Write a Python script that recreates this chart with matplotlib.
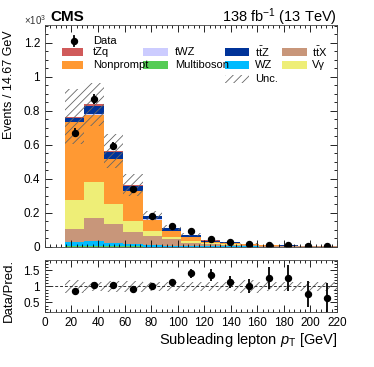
import numpy as np
import matplotlib
matplotlib.use("Agg")
import matplotlib.pyplot as plt
from matplotlib.patches import Rectangle
from matplotlib.ticker import MultipleLocator, AutoMinorLocator, FormatStrFormatter

plt.rcParams['font.family'] = ['Liberation Sans', 'DejaVu Sans']
plt.rcParams['mathtext.fontset'] = 'custom'
plt.rcParams['mathtext.rm'] = 'Liberation Sans'
plt.rcParams['mathtext.it'] = 'Liberation Sans:italic'
plt.rcParams['hatch.linewidth'] = 0.6

# 14 bins of 14.67 GeV from 15 to 220 GeV
bin_edges = np.linspace(15, 220, 15)

# stacked predictions (x10^3 events), bottom to top
multiboson = [0.005, 0.006, 0.004, 0.003, 0.002, 0.002, 0.001, 0.001, 0.001, 0.001, 0.0005, 0.0005, 0.0004, 0.0003]
wz = [0.025, 0.030, 0.020, 0.015, 0.010, 0.006, 0.005, 0.004, 0.003, 0.002, 0.0015, 0.001, 0.001, 0.0008]
ttx = [0.078, 0.136, 0.109, 0.070, 0.051, 0.037, 0.020, 0.013, 0.009, 0.007, 0.004, 0.003, 0.0025, 0.002]
vgamma = [0.170, 0.210, 0.118, 0.065, 0.029, 0.014, 0.009, 0.006, 0.004, 0.003, 0.002, 0.0015, 0.001, 0.001]
nonprompt = [0.454, 0.393, 0.263, 0.175, 0.069, 0.035, 0.024, 0.006, 0.004, 0.0025, 0.001, 0.001, 0.0008, 0.0005]
twz = [0.003, 0.004, 0.003, 0.002, 0.001, 0.001, 0.001, 0.0005, 0.0005, 0.0003, 0.0002, 0.0001, 0.0001, 0.0001]
ttz = [0.024, 0.050, 0.042, 0.031, 0.020, 0.017, 0.012, 0.007, 0.005, 0.004, 0.0025, 0.002, 0.0015, 0.001]
tzq = [0.006, 0.009, 0.004, 0.003, 0.002, 0.002, 0.001, 0.001, 0.0005, 0.0003, 0.0002, 0.0001, 0.0001, 0.0001]

# relative total uncertainty per bin
unc_frac = [0.21, 0.15, 0.18, 0.17, 0.15, 0.15, 0.14, 0.13, 0.13, 0.20, 0.13, 0.13, 0.13, 0.13]

data = [0.670, 0.869, 0.592, 0.338, 0.182, 0.124, 0.094, 0.049, 0.030, 0.020, 0.014, 0.010, 0.0046, 0.003]
data_err = [0.026, 0.029, 0.024, 0.018, 0.014, 0.011, 0.010, 0.007, 0.006, 0.005, 0.004, 0.003, 0.002, 0.002]

ratio = [0.87, 1.04, 1.05, 0.93, 1.02, 1.13, 1.41, 1.36, 1.14, 1.01, 1.27, 1.27, 0.77, 0.64]
ratio_err = [0.03, 0.03, 0.04, 0.05, 0.06, 0.08, 0.14, 0.18, 0.20, 0.21, 0.35, 0.40, 0.40, 0.45]

TTZ = r"$\mathrm{t\bar{t}Z}$"
TTX = r"$\mathrm{t\bar{t}X}$"
VG = "V\u03b3"

components = [
    ("Multiboson", multiboson, "#55cc55"),
    ("WZ", wz, "#00bbff"),
    (TTX, ttx, "#c8967a"),
    (VG, vgamma, "#eeee77"),
    ("Nonprompt", nonprompt, "#ff9933"),
    ("tWZ", twz, "#ccccff"),
    (TTZ, ttz, "#003399"),
    ("tZq", tzq, "#d05a5a"),
]
colors = {label: color for label, _, color in components}

centers = 0.5 * (bin_edges[1:] + bin_edges[:-1])
width = np.diff(bin_edges)

fig = plt.figure(figsize=(3.74, 3.67), dpi=100)
ax = fig.add_axes([0.12, 0.327, 0.781, 0.605])
rax = fig.add_axes([0.12, 0.150, 0.781, 0.142])

bottom = np.zeros(len(centers))
for label, vals, color in components:
    vals = np.array(vals)
    ax.bar(bin_edges[:-1], vals, width=width, bottom=bottom, align='edge',
           color=color, linewidth=0)
    bottom = bottom + vals
total = bottom

unc = total * np.array(unc_frac)
ax.bar(bin_edges[:-1], 2 * unc, width=width, bottom=total - unc, align='edge',
       fill=False, hatch='////', edgecolor='#666666', linewidth=0)

ax.errorbar(centers, data, yerr=data_err, fmt='o', color='black',
            markersize=4.3, elinewidth=1.3, capsize=0)

ax.set_xlim(0, 220)
ax.set_ylim(0, 1.304)
ax.set_ylabel("Events / 14.67 GeV", fontsize=9, loc='top')
ax.yaxis.set_label_coords(-0.103, 0.977)
ax.yaxis.set_major_locator(MultipleLocator(0.2))
ax.yaxis.set_minor_locator(AutoMinorLocator(4))
ax.yaxis.set_major_formatter(FormatStrFormatter('%g'))
ax.xaxis.set_major_locator(MultipleLocator(20))
ax.xaxis.set_minor_locator(AutoMinorLocator(5))
ax.tick_params(labelbottom=False)

for a in (ax, rax):
    a.tick_params(which='both', direction='in', top=True, right=True, labelsize=8.5)
    a.tick_params(which='major', length=5, width=0.6)
    a.tick_params(which='minor', length=2.5, width=0.6)
    for s in a.spines.values():
        s.set_linewidth(0.6)
        s.set_color('#444444')

# ratio panel
rax.bar(bin_edges[:-1], 2 * np.array(unc_frac), width=width,
        bottom=1 - np.array(unc_frac), align='edge', fill=False,
        hatch='////', edgecolor='#666666', linewidth=0)
rax.axhline(1, color='#333333', linestyle='--', linewidth=0.7, dashes=(3, 2))
rax.errorbar(centers, ratio, yerr=ratio_err, fmt='o', color='black',
             markersize=4.3, elinewidth=1.3, capsize=0)
rax.set_xlim(0, 220)
rax.set_ylim(0.2, 1.83)
rax.yaxis.set_major_locator(MultipleLocator(0.5))
rax.yaxis.set_minor_locator(AutoMinorLocator(5))
rax.yaxis.set_major_formatter(FormatStrFormatter('%g'))
rax.xaxis.set_major_locator(MultipleLocator(20))
rax.xaxis.set_minor_locator(AutoMinorLocator(5))
rax.set_ylabel("Data/Pred.", fontsize=9.5)
rax.yaxis.set_label_coords(-0.103, 0.42)
rax.set_xlabel(r"Subleading lepton $p_{\mathrm{T}}$ [GeV]", fontsize=10.5, loc='right',
               labelpad=1.5)


# hand-placed legend (ROOT-style grid), positions in axes pixels
def px(x, y):
    return ((x - 45) / 292.0, (247 - y) / 222.0)


leg_rows = [52.3, 65.0, 79.0]
leg_cols = [(62, 83, 93), (143, 168, 175), (225, 249, 255), (282, 307, 312)]
leg_grid = [
    ["tZq", "tWZ", TTZ, TTX],
    ["Nonprompt", "Multiboson", "WZ", VG],
]
for r, row in enumerate(leg_grid):
    for c, label in enumerate(row):
        x0, x1, xt = leg_cols[c]
        yc = leg_rows[r]
        (ax0, ay0) = px(x0, yc + 4.2)
        (ax1, ay1) = px(x1, yc - 4.2)
        ax.add_patch(Rectangle((ax0, ay0), ax1 - ax0, ay1 - ay0, transform=ax.transAxes,
                               facecolor=colors[label], edgecolor='none'))
        tx, ty = px(xt, yc)
        ax.text(tx, ty, label, transform=ax.transAxes, fontsize=8, va='center', ha='left')

x0, x1, xt = leg_cols[2]
(ax0, ay0) = px(x0, leg_rows[2] + 4.2)
(ax1, ay1) = px(x1, leg_rows[2] - 4.2)
ax.add_patch(Rectangle((ax0, ay0), ax1 - ax0, ay1 - ay0, transform=ax.transAxes,
                       fill=False, hatch='////', edgecolor='#666666', linewidth=0))
tx, ty = px(xt, leg_rows[2])
ax.text(tx, ty, "Unc.", transform=ax.transAxes, fontsize=8, va='center', ha='left')

mx, my = px(74, 40.7)
ax.plot([mx], [my], 'o', color='black', markersize=4.3, transform=ax.transAxes)
ax.plot([mx, mx], [my - 0.022, my + 0.022], color='black', linewidth=1.3, transform=ax.transAxes)
tx, ty = px(93, 40.7)
ax.text(tx, ty, "Data", transform=ax.transAxes, fontsize=8, va='center', ha='left')

fig.text(0.134, 0.953, "CMS", fontsize=11, fontweight='bold', ha='left', va='center')
fig.text(0.063, 0.946, r"$\times10^{3}$", fontsize=7, ha='left', va='center', color='#333333')
fig.text(0.901, 0.953, r"138 fb$^{-1}$ (13 TeV)", fontsize=10.5, ha='right', va='center')

fig.savefig("out.png", dpi=100)
